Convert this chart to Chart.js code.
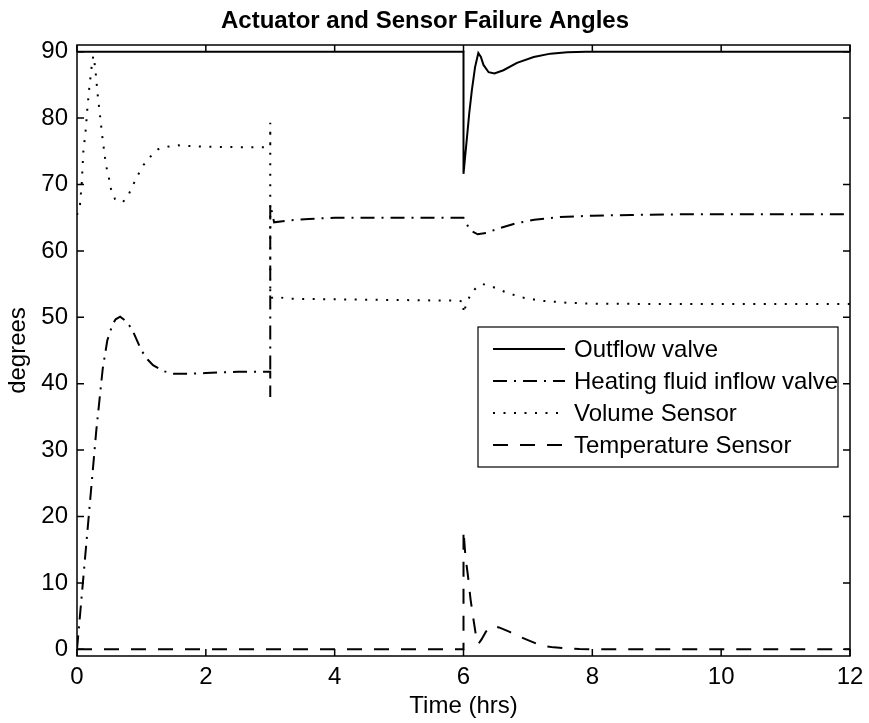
<!DOCTYPE html>
<html>
<head>
<meta charset="utf-8">
<title>Actuator and Sensor Failure Angles</title>
<script src="https://cdn.jsdelivr.net/npm/chart.js@4.4.1/dist/chart.umd.min.js"></script>
<style>
  html, body { margin: 0; padding: 0; background: #fff; }
  #wrap { width: 869px; height: 723px; position: relative; }
</style>
</head>
<body>
<div id="wrap"><canvas id="chartCanvas"></canvas></div>
<script>
// ---------- data ----------
const xTicks = [0, 2, 4, 6, 8, 10, 12];
const yTicks = [0, 10, 20, 30, 40, 50, 60, 70, 80, 90];

const seriesNames = ["Outflow valve", "Heating fluid inflow valve", "Volume Sensor", "Temperature Sensor"];

// outflow valve angle (deg) vs time (hrs)
const outflowT = [0, 6, 6, 6.05, 6.09, 6.13, 6.18, 6.23, 6.27, 6.31, 6.39, 6.48, 6.62, 6.83, 7.09, 7.35, 7.61, 7.9, 12];
const outflowV = [90, 90, 71.6, 76.7, 80.8, 84.2, 87.7, 89.8, 89.2, 88.0, 86.9, 86.7, 87.2, 88.3, 89.2, 89.7, 89.9, 90, 90];

// heating fluid inflow valve
const heatingT = [0, 0.05, 0.1, 0.2, 0.3, 0.4, 0.47, 0.55, 0.6, 0.67, 0.75, 0.85, 1.0, 1.1, 1.18, 1.34, 1.5, 1.7, 2.0, 2.5, 3.0, 3.0, 3.0, 3.06, 3.3, 3.6, 4.0, 5.0, 6.0, 6.05, 6.12, 6.22, 6.35, 6.55, 6.8, 7.1, 7.5, 8.0, 8.6, 9.3, 10.5, 12];
const heatingV = [0, 5.5, 11, 22, 33, 42.3, 46.5, 48.9, 49.7, 50.1, 49.5, 48.3, 45.0, 43.6, 42.8, 41.9, 41.5, 41.5, 41.6, 41.8, 41.8, 38, 67, 64.3, 64.6, 64.8, 65, 65, 65, 64, 63, 62.5, 62.7, 63.4, 64.1, 64.7, 65.1, 65.3, 65.4, 65.5, 65.5, 65.5];

// volume sensor
const volumeT = [0, 0.047, 0.073, 0.098, 0.135, 0.16, 0.19, 0.21, 0.228, 0.253, 0.27, 0.29, 0.32, 0.357, 0.393, 0.435, 0.46, 0.497, 0.528, 0.59, 0.71, 0.807, 0.874, 0.95, 1.03, 1.13, 1.26, 1.41, 1.57, 1.8, 2.2, 2.6, 3.0, 3.0, 3.0, 3.06, 3.3, 4.0, 5.0, 5.9, 6.0, 6.0, 6.05, 6.12, 6.2, 6.3, 6.45, 6.65, 6.9, 7.2, 7.6, 8.0, 9.0, 10.0, 12];
const volumeV = [65.4, 67.0, 70.1, 74.9, 78.2, 81.3, 84.5, 86.2, 87.8, 89.4, 88.5, 86.8, 83.6, 80.4, 77.2, 74.0, 72.5, 70.9, 69.3, 67.8, 67.3, 68.6, 70.0, 71.5, 72.9, 74.1, 75.3, 75.7, 75.9, 75.75, 75.65, 75.6, 75.6, 79.3, 52.8, 53.1, 52.8, 52.7, 52.6, 52.5, 52.4, 50.6, 52.2, 53.6, 54.5, 55.0, 54.6, 53.8, 53.0, 52.5, 52.2, 52.05, 52.0, 52.0, 52.0];

// temperature sensor
const tempT = [0, 6, 6, 6.03, 6.07, 6.11, 6.15, 6.19, 6.23, 6.28, 6.35, 6.45, 6.55, 6.7, 6.85, 7.0, 7.2, 7.4, 7.6, 7.8, 8.1, 12];
const tempV = [0, 0, 17.9, 14.0, 11.0, 7.5, 4.8, 2.3, 0.8, 1.5, 2.7, 3.5, 3.3, 2.7, 2.0, 1.4, 0.6, 0.3, 0.15, 0.05, 0, 0];

// ---------- helpers ----------
const FONT = "'Liberation Sans', Arial, Helvetica, sans-serif";
const FONT_SIZE = 24;

function toPoints(ts, vs) {
  return ts.map((t, i) => ({ x: t, y: vs[i] }));
}

function lineSet(label, ts, vs, dash, width) {
  return {
    label: label,
    data: toPoints(ts, vs),
    borderColor: "#000",
    backgroundColor: "#000",
    borderWidth: width,
    borderDash: dash,
    pointRadius: 0,
    tension: 0,
    fill: false
  };
}

// box around the axes with inward ticks on all four sides
const axesFrame = {
  id: "axesFrame",
  afterDatasetsDraw(chart, args, opts) {
    const { ctx, chartArea: a, scales } = chart;
    const len = opts.tickLen;
    ctx.save();
    ctx.strokeStyle = "#000";
    ctx.lineWidth = opts.lineWidth;
    ctx.setLineDash([]);
    ctx.strokeRect(a.left, a.top, a.right - a.left, a.bottom - a.top);
    ctx.beginPath();
    scales.x.ticks.forEach(t => {
      const px = scales.x.getPixelForValue(t.value);
      ctx.moveTo(px, a.bottom); ctx.lineTo(px, a.bottom - len);
      ctx.moveTo(px, a.top); ctx.lineTo(px, a.top + len);
    });
    scales.y.ticks.forEach(t => {
      const py = scales.y.getPixelForValue(t.value);
      ctx.moveTo(a.left, py); ctx.lineTo(a.left + len, py);
      ctx.moveTo(a.right, py); ctx.lineTo(a.right - len, py);
    });
    ctx.stroke();
    ctx.restore();
  }
};

// boxed legend sitting inside the axes, right side
const boxLegend = {
  id: "boxLegend",
  afterDraw(chart, args, opts) {
    const { ctx, chartArea: a } = chart;
    const right = a.right - opts.marginRight;
    const left = right - opts.width;
    const top = a.top + opts.offsetTop;
    const sets = chart.data.datasets;
    const height = opts.padY * 2 + opts.rowHeight * sets.length;
    ctx.save();
    ctx.fillStyle = "#fff";
    ctx.fillRect(left, top, opts.width, height);
    ctx.strokeStyle = "#000";
    ctx.lineWidth = 1.2;
    ctx.setLineDash([]);
    ctx.strokeRect(left, top, opts.width, height);
    ctx.font = opts.fontSize + "px " + FONT;
    ctx.textBaseline = "middle";
    ctx.textAlign = "left";
    ctx.fillStyle = "#000";
    sets.forEach((ds, i) => {
      const cy = top + opts.padY + opts.rowHeight * (i + 0.5);
      ctx.beginPath();
      ctx.lineWidth = ds.borderWidth;
      ctx.setLineDash(ds.borderDash || []);
      ctx.moveTo(left + opts.sampleStart, cy);
      ctx.lineTo(left + opts.sampleStart + opts.sampleLen, cy);
      ctx.stroke();
      ctx.setLineDash([]);
      ctx.fillText(ds.label, left + opts.textStart, cy + 1);
    });
    ctx.restore();
  }
};

// ---------- chart ----------
const tickFont = { family: FONT, size: FONT_SIZE };

new Chart(document.getElementById("chartCanvas"), {
  type: "scatter",
  data: {
    datasets: [
      lineSet(seriesNames[0], outflowT, outflowV, [], 2),
      lineSet(seriesNames[1], heatingT, heatingV, [14, 7, 2, 7], 2),
      lineSet(seriesNames[2], volumeT, volumeV, [2, 8.5], 2),
      lineSet(seriesNames[3], tempT, tempV, [15, 12], 2)
    ]
  },
  options: {
    responsive: true,
    maintainAspectRatio: false,
    animation: false,
    showLine: true,
    layout: { padding: { left: 0, right: 19, top: 0, bottom: 0 } },
    plugins: {
      legend: { display: false },
      tooltip: { enabled: false },
      title: {
        display: true,
        text: "Actuator and Sensor Failure Angles",
        color: "#000",
        font: { family: FONT, size: FONT_SIZE, weight: "bold" },
        padding: { top: 7, bottom: 9.2 }
      },
      axesFrame: { tickLen: 7, lineWidth: 1.5 },
      boxLegend: {
        marginRight: 12, offsetTop: 282, width: 360,
        padY: 6, rowHeight: 32,
        sampleStart: 15, sampleLen: 72, textStart: 96, fontSize: FONT_SIZE
      }
    },
    scales: {
      x: {
        type: "linear",
        min: 0,
        max: 12,
        afterBuildTicks: s => { s.ticks = xTicks.map(v => ({ value: v })); },
        afterFit: s => { s.height = 67; },
        grid: { display: false },
        border: { display: false },
        ticks: { color: "#000", font: tickFont, padding: -1.5, maxRotation: 0 },
        title: { display: true, text: "Time (hrs)", color: "#000", font: tickFont, padding: { top: 0, bottom: 2.5 } }
      },
      y: {
        type: "linear",
        min: -1,
        max: 91,
        afterBuildTicks: s => { s.ticks = yTicks.map(v => ({ value: v })); },
        afterFit: s => { s.width = 77; },
        grid: { display: false },
        border: { display: false },
        ticks: { color: "#000", font: tickFont, padding: 1 },
        title: { display: true, text: "degrees", color: "#000", font: tickFont, padding: { top: 3.6, bottom: 0 } }
      }
    }
  },
  plugins: [axesFrame, boxLegend]
});
</script>
</body>
</html>
